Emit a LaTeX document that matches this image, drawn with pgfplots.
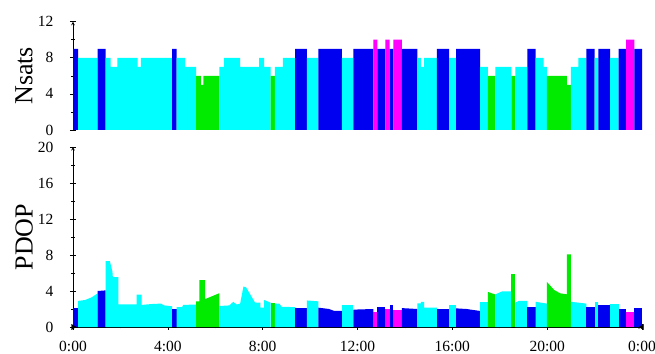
\documentclass[border=0pt]{standalone}
\usepackage{pgfplots}
\pgfplotsset{compat=1.18}
\usepackage{fontspec}
\setmainfont{Liberation Serif}
\definecolor{cc}{RGB}{0,255,255}
\definecolor{bb}{RGB}{0,0,240}
\definecolor{gg}{RGB}{0,235,0}
\definecolor{mm}{RGB}{255,0,255}
\pgfplotsset{
  common/.style={
    scale only axis, width=569bp, xmin=0, xmax=24,
    /pgf/number format/assume math mode=true,
    tick align=outside, major tick length=6bp, minor tick length=3bp,
    tick style={black, line width=0.6pt},
    axis line style={-, black, line width=0.6pt},
    every axis y label/.style={at={(axis description cs:-0.086,0.5)}, rotate=90, anchor=center, font=\fontsize{26bp}{28bp}\selectfont},
    minor tick num=1,
    every y tick label/.style={font=\fontsize{15.5bp}{17bp}\selectfont, anchor=east, xshift=-13bp},
    every x tick label/.style={font=\fontsize{15.5bp}{17bp}\selectfont, anchor=north, yshift=-8bp},
  }
}
\begin{document}
\begin{tikzpicture}
\path[use as bounding box] (0,0) rectangle (655bp,354bp);
% ---------------- top panel: Nsats ----------------
\begin{axis}[common, at={(73bp,224bp)}, anchor=south west, height=108.3bp,
  ymin=0, ymax=12, ytick={0,4,8,12}, axis y line=left, axis x line=none,
  ylabel={Nsats}]
\addplot[const plot, fill=bb, draw=none] coordinates {(0,9)(0.22,9)} \closedcycle;
\addplot[const plot, fill=cc, draw=none] coordinates {(0.22,8)(1.04,8)} \closedcycle;
\addplot[const plot, fill=bb, draw=none] coordinates {(1.04,9)(1.38,9)} \closedcycle;
\addplot[const plot, fill=cc, draw=none] coordinates {(1.38,8)(1.59,7)(1.87,8)(2.73,7)(2.86,8)(4.18,8)} \closedcycle;
\addplot[const plot, fill=bb, draw=none] coordinates {(4.18,9)(4.37,9)} \closedcycle;
\addplot[const plot, fill=cc, draw=none] coordinates {(4.37,8)(4.73,7)(5.19,7)} \closedcycle;
\addplot[const plot, fill=gg, draw=none] coordinates {(5.19,6)(5.39,5)(5.50,6)(6.17,6)} \closedcycle;
\addplot[const plot, fill=cc, draw=none] coordinates {(6.17,7)(6.37,8)(7.05,7)(7.85,8)(8.06,7)(8.34,7)} \closedcycle;
\addplot[const plot, fill=gg, draw=none] coordinates {(8.34,6)(8.52,6)} \closedcycle;
\addplot[const plot, fill=cc, draw=none] coordinates {(8.52,7)(8.85,8)(9.37,8)} \closedcycle;
\addplot[const plot, fill=bb, draw=none] coordinates {(9.37,9)(9.86,9)} \closedcycle;
\addplot[const plot, fill=cc, draw=none] coordinates {(9.86,8)(10.35,8)} \closedcycle;
\addplot[const plot, fill=bb, draw=none] coordinates {(10.35,9)(11.34,9)} \closedcycle;
\addplot[const plot, fill=cc, draw=none] coordinates {(11.34,8)(11.83,8)} \closedcycle;
\addplot[const plot, fill=bb, draw=none] coordinates {(11.83,9)(12.67,9)} \closedcycle;
\addplot[const plot, fill=mm, draw=none] coordinates {(12.67,10)(12.84,10)} \closedcycle;
\addplot[const plot, fill=bb, draw=none] coordinates {(12.84,9)(13.18,9)} \closedcycle;
\addplot[const plot, fill=mm, draw=none] coordinates {(13.18,10)(13.35,10)} \closedcycle;
\addplot[const plot, fill=bb, draw=none] coordinates {(13.35,9)(13.51,9)} \closedcycle;
\addplot[const plot, fill=mm, draw=none] coordinates {(13.51,10)(13.87,10)} \closedcycle;
\addplot[const plot, fill=bb, draw=none] coordinates {(13.87,9)(14.53,9)} \closedcycle;
\addplot[const plot, fill=cc, draw=none] coordinates {(14.53,8)(14.67,7)(14.81,8)(15.35,8)} \closedcycle;
\addplot[const plot, fill=bb, draw=none] coordinates {(15.35,9)(15.86,9)} \closedcycle;
\addplot[const plot, fill=cc, draw=none] coordinates {(15.86,8)(16.16,8)} \closedcycle;
\addplot[const plot, fill=bb, draw=none] coordinates {(16.16,9)(17.17,9)} \closedcycle;
\addplot[const plot, fill=cc, draw=none] coordinates {(17.17,7)(17.50,7)} \closedcycle;
\addplot[const plot, fill=gg, draw=none] coordinates {(17.50,6)(17.82,6)} \closedcycle;
\addplot[const plot, fill=cc, draw=none] coordinates {(17.82,7)(18.49,7)} \closedcycle;
\addplot[const plot, fill=gg, draw=none] coordinates {(18.49,6)(18.66,6)} \closedcycle;
\addplot[const plot, fill=cc, draw=none] coordinates {(18.66,7)(19.16,7)} \closedcycle;
\addplot[const plot, fill=bb, draw=none] coordinates {(19.16,9)(19.51,9)} \closedcycle;
\addplot[const plot, fill=cc, draw=none] coordinates {(19.51,8)(19.85,7)(19.99,7)} \closedcycle;
\addplot[const plot, fill=gg, draw=none] coordinates {(19.99,6)(20.83,5)(21.0,5)} \closedcycle;
\addplot[const plot, fill=cc, draw=none] coordinates {(21.0,7)(21.32,8)(21.65,8)} \closedcycle;
\addplot[const plot, fill=bb, draw=none] coordinates {(21.65,9)(22.0,9)} \closedcycle;
\addplot[const plot, fill=cc, draw=none] coordinates {(22.0,8)(22.16,8)} \closedcycle;
\addplot[const plot, fill=bb, draw=none] coordinates {(22.16,9)(22.66,9)} \closedcycle;
\addplot[const plot, fill=cc, draw=none] coordinates {(22.66,8)(23.01,8)} \closedcycle;
\addplot[const plot, fill=bb, draw=none] coordinates {(23.01,9)(23.33,9)} \closedcycle;
\addplot[const plot, fill=mm, draw=none] coordinates {(23.33,10)(23.68,10)} \closedcycle;
\addplot[const plot, fill=bb, draw=none] coordinates {(23.68,9)(24.0,9)} \closedcycle;
\end{axis}
% ---------------- bottom panel: PDOP ----------------
\begin{axis}[common, at={(73bp,27bp)}, anchor=south west, height=180bp,
  ymin=0, ymax=20, ytick={0,4,8,12,16,20}, axis lines=left, clip=false,
  xtick={0,4,8,12,16,20,24}, xticklabels={0:00,4:00,8:00,12:00,16:00,20:00,0:00},
  ylabel={PDOP}]
\addplot[fill=bb, draw=none] coordinates {(0,2.07)(0.22,2.07)} \closedcycle;
\addplot[fill=cc, draw=none] coordinates {(0.22,2.9)(0.51,3.0)(0.79,3.3)(1.04,3.74)} \closedcycle;
\addplot[fill=bb, draw=none] coordinates {(1.04,4.0)(1.38,4.07)} \closedcycle;
\addplot[fill=cc, draw=none] coordinates {(1.38,7.33)(1.55,7.33)(1.66,6.2)(1.68,5.55)(1.91,5.55)(1.91,2.5)(2.68,2.5)(2.68,3.6)(2.89,3.6)(2.89,2.45)(3.3,2.55)(3.7,2.6)(3.85,2.4)(4.18,2.3)} \closedcycle;
\addplot[fill=bb, draw=none] coordinates {(4.18,1.96)(4.37,1.96)} \closedcycle;
\addplot[fill=cc, draw=none] coordinates {(4.37,2.2)(4.6,2.2)(4.65,2.45)(5.19,2.5)} \closedcycle;
\addplot[fill=gg, draw=none] coordinates {(5.19,2.85)(5.33,2.85)(5.33,5.2)(5.57,5.2)(5.57,3.1)(6.17,3.75)} \closedcycle;
\addplot[fill=cc, draw=none] coordinates {(6.17,2.33)(6.6,2.4)(6.76,2.8)(6.9,2.5)(7.05,2.6)(7.19,4.5)(7.3,4.4)(7.68,2.7)(7.9,2.7)(7.9,2.15)(8.06,2.15)(8.06,3.0)(8.34,2.7)} \closedcycle;
\addplot[fill=gg, draw=none] coordinates {(8.34,2.7)(8.52,2.7)} \closedcycle;
\addplot[fill=cc, draw=none] coordinates {(8.52,2.6)(8.7,2.6)(8.8,2.25)(9.37,2.2)} \closedcycle;
\addplot[fill=bb, draw=none] coordinates {(9.37,2.07)(9.86,2.07)} \closedcycle;
\addplot[fill=cc, draw=none] coordinates {(9.86,2.95)(10.35,2.85)} \closedcycle;
\addplot[fill=bb, draw=none] coordinates {(10.35,2.15)(10.8,2.0)(11.0,1.8)(11.34,1.78)} \closedcycle;
\addplot[fill=cc, draw=none] coordinates {(11.34,2.4)(11.83,2.4)} \closedcycle;
\addplot[fill=bb, draw=none] coordinates {(11.83,1.93)(12.67,2.0)} \closedcycle;
\addplot[fill=mm, draw=none] coordinates {(12.67,1.7)(12.84,1.7)} \closedcycle;
\addplot[fill=bb, draw=none] coordinates {(12.84,2.19)(13.18,2.19)} \closedcycle;
\addplot[fill=mm, draw=none] coordinates {(13.18,1.96)(13.35,1.96)} \closedcycle;
\addplot[fill=bb, draw=none] coordinates {(13.35,2.4)(13.51,2.4)} \closedcycle;
\addplot[fill=mm, draw=none] coordinates {(13.51,1.89)(13.87,1.89)} \closedcycle;
\addplot[fill=bb, draw=none] coordinates {(13.87,2.1)(14.53,2.0)} \closedcycle;
\addplot[fill=cc, draw=none] coordinates {(14.53,2.63)(14.67,2.63)(14.67,2.78)(14.81,2.78)(14.81,2.15)(15.35,2.15)} \closedcycle;
\addplot[fill=bb, draw=none] coordinates {(15.35,2.0)(15.86,2.0)} \closedcycle;
\addplot[fill=cc, draw=none] coordinates {(15.86,2.4)(16.16,2.4)} \closedcycle;
\addplot[fill=bb, draw=none] coordinates {(16.16,2.07)(16.6,2.0)(17.17,1.78)} \closedcycle;
\addplot[fill=cc, draw=none] coordinates {(17.17,2.78)(17.50,2.78)} \closedcycle;
\addplot[fill=gg, draw=none] coordinates {(17.50,3.9)(17.82,3.6)} \closedcycle;
\addplot[fill=cc, draw=none] coordinates {(17.82,3.63)(18.1,3.96)(18.49,3.96)} \closedcycle;
\addplot[fill=gg, draw=none] coordinates {(18.49,5.85)(18.66,5.85)} \closedcycle;
\addplot[fill=cc, draw=none] coordinates {(18.66,2.7)(18.8,2.9)(19.16,2.9)} \closedcycle;
\addplot[fill=bb, draw=none] coordinates {(19.16,2.2)(19.51,2.2)} \closedcycle;
\addplot[fill=cc, draw=none] coordinates {(19.51,2.8)(19.99,2.6)} \closedcycle;
\addplot[fill=gg, draw=none] coordinates {(19.99,5.0)(20.3,4.1)(20.55,3.74)(20.83,3.63)(20.83,8.07)(21.0,8.07)} \closedcycle;
\addplot[fill=cc, draw=none] coordinates {(21.0,2.8)(21.65,2.6)} \closedcycle;
\addplot[fill=bb, draw=none] coordinates {(21.65,2.2)(22.0,2.2)} \closedcycle;
\addplot[fill=cc, draw=none] coordinates {(22.0,2.78)(22.16,2.78)} \closedcycle;
\addplot[fill=bb, draw=none] coordinates {(22.16,2.48)(22.66,2.48)} \closedcycle;
\addplot[fill=cc, draw=none] coordinates {(22.66,2.6)(23.01,2.6)} \closedcycle;
\addplot[fill=bb, draw=none] coordinates {(23.01,1.96)(23.33,1.96)} \closedcycle;
\addplot[fill=mm, draw=none] coordinates {(23.33,1.7)(23.68,1.7)} \closedcycle;
\addplot[fill=bb, draw=none] coordinates {(23.68,2.07)(24.0,2.07)} \closedcycle;
\addplot[only marks, mark=triangle*, mark size=3bp, mark options={rotate=-90, fill=black, draw=black}] coordinates {(0,0)};
\addplot[only marks, mark=triangle*, mark size=3bp, mark options={rotate=90, fill=black, draw=black}] coordinates {(24,0)};
\end{axis}
\end{tikzpicture}
\end{document}
